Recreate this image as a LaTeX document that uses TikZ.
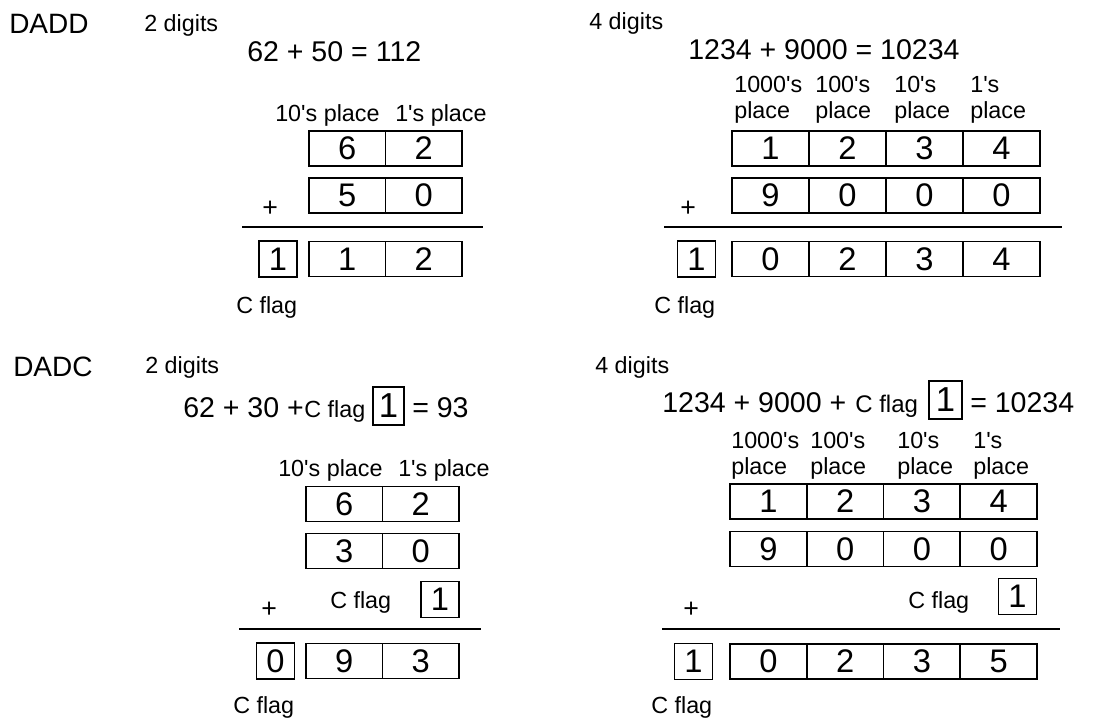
\documentclass[tikz,border=0pt]{standalone}
\usepackage{fontspec}
\setmainfont{Liberation Sans}
\usetikzlibrary{positioning}
\newcommand{\apos}{\textquotesingle}

\begin{document}
\begin{tikzpicture}[x=0.75pt, y=-0.75pt,
    txt/.style={inner sep=0pt, anchor=base west},
    title/.style={txt, font=\fontsize{21}{24}\selectfont},
    small/.style={txt, align=left, font=\fontsize{17.5}{19.5}\selectfont},
    plus/.style={txt, font=\fontsize{20}{24}\selectfont},
    eqn/.style={txt, font=\fontsize{21.4}{25}\selectfont},
    cell/.style={draw, line width=1.4pt, inner sep=0pt, minimum width=57.375pt, minimum height=26.25pt, font=\fontsize{24.5}{25}\selectfont},
    carry/.style={cell, minimum width=28.5pt, minimum height=27pt},
    eqbox/.style={cell, minimum width=23.5pt, minimum height=28.5pt, font=\fontsize{26}{26}\selectfont},
    rule/.style={line width=1.4pt}]
\useasboundingbox (0,0) rectangle (1106,722);

% DADD, 2 digits
\node[title] (dadd) at (9,33) {DADD};
\node[small] (dadd2) at (144,31) {2 digits};
\node[eqn] (dadd2eq) at (247,61) {62 + 50 = 112};
\node[small] (dadd2ten) at (275,121) {10\apos s place};
\node[small] (dadd2one) at (395,121) {1\apos s place};
\foreach \d [count=\i] in {6,2}
    \node[cell] (dadd2a\i) at ({309+76.5*(\i-0.5)},148.5) {\d};
\foreach \d [count=\i] in {5,0}
    \node[cell] (dadd2b\i) at ({309+76.5*(\i-0.5)},195.5) {\d};
\node[plus] (dadd2plus) at (262,216) {+};
\coordinate (dadd2l) at (242,227);
\coordinate (dadd2r) at (483,227);
\draw[rule] (dadd2l) -- (dadd2r);
\node[carry] (dadd2c) at (278,259) {1};
\foreach \d [count=\i] in {1,2}
    \node[cell] (dadd2s\i) at ({309+76.5*(\i-0.5)},259) {\d};
\node[small] (dadd2cf) at (236,313) {C flag};

% DADD, 4 digits
\node[small] (dadd4) at (589,29) {4 digits};
\node[eqn] (dadd4eq) at (688,59) {1234 + 9000 = 10234};
\foreach \t/\x [count=\i] in {1000/734,100/815,10/894,1/970}
    \node[small] (dadd4p\i) at (\x,118) {\t\apos s\\place};
\foreach \d [count=\i] in {1,2,3,4}
    \node[cell, minimum width=57.75pt] (dadd4a\i) at ({732+77*(\i-0.5)},148.5) {\d};
\foreach \d [count=\i] in {9,0,0,0}
    \node[cell, minimum width=57.75pt] (dadd4b\i) at ({732+77*(\i-0.5)},195.5) {\d};
\node[plus] (dadd4plus) at (680,216) {+};
\coordinate (dadd4l) at (664,227);
\coordinate (dadd4r) at (1062,227);
\draw[rule] (dadd4l) -- (dadd4r);
\node[carry] (dadd4c) at (696.5,259) {1};
\foreach \d [count=\i] in {0,2,3,4}
    \node[cell, minimum width=57.75pt] (dadd4s\i) at ({732+77*(\i-0.5)},259) {\d};
\node[small] (dadd4cf) at (654,313) {C flag};

% DADC, 2 digits
\node[title] (dadc) at (13,376) {DADC};
\node[small] (dadc2) at (145,373) {2 digits};
\node[eqn] (dadc2eq) at (183,417) {62 + 30 +};
\node[small] (dadc2eqc) at (dadc2eq.base east) {C flag};
\node[eqbox] (dadc2eqbox) at (388.5,406) {1};
\node[eqn] (dadc2eqr) at (412,417) {= 93};
\node[small] (dadc2ten) at (278,476) {10\apos s place};
\node[small] (dadc2one) at (398,476) {1\apos s place};
\foreach \d [count=\i] in {6,2}
    \node[cell] (dadc2a\i) at ({306+76.5*(\i-0.5)},504) {\d};
\foreach \d [count=\i] in {3,0}
    \node[cell] (dadc2b\i) at ({306+76.5*(\i-0.5)},551) {\d};
\node[small] (dadc2flag) at (330,608) {C flag};
\node[carry] (dadc2fbox) at (440,599.5) {1};
\node[plus] (dadc2plus) at (261,617) {+};
\coordinate (dadc2l) at (239,629);
\coordinate (dadc2r) at (481,629);
\draw[rule] (dadc2l) -- (dadc2r);
\node[carry] (dadc2c) at (275.5,661) {0};
\foreach \d [count=\i] in {9,3}
    \node[cell] (dadc2s\i) at ({306+76.5*(\i-0.5)},661) {\d};
\node[small] (dadc2cf) at (233,713) {C flag};

% DADC, 4 digits
\node[small] (dadc4) at (595,373) {4 digits};
\node[eqn] (dadc4eq) at (662,412) {1234 + 9000 +};
\node[small, font=\fontsize{18}{20}\selectfont] (dadc4eqc) at (855,412) {C flag};
\node[eqbox, minimum width=24.75pt] (dadc4eqbox) at (945.5,400) {1};
\node[eqn] (dadc4eqr) at (970,412) {= 10234};
\foreach \t/\x [count=\i] in {1000/731,100/810,10/897,1/973}
    \node[small] (dadc4p\i) at (\x,474) {\t\apos s\\place};
\foreach \d [count=\i] in {1,2,3,4}
    \node[cell, minimum width=57.5625pt] (dadc4a\i) at ({730+76.75*(\i-0.5)},501.5) {\d};
\foreach \d [count=\i] in {9,0,0,0}
    \node[cell, minimum width=57.5625pt] (dadc4b\i) at ({730+76.75*(\i-0.5)},549) {\d};
\node[small] (dadc4flag) at (908,608) {C flag};
\node[carry] (dadc4fbox) at (1017.5,596.5) {1};
\node[plus] (dadc4plus) at (683,617) {+};
\coordinate (dadc4l) at (662,629);
\coordinate (dadc4r) at (1060,629);
\draw[rule] (dadc4l) -- (dadc4r);
\node[carry] (dadc4c) at (693.5,661.5) {1};
\foreach \d [count=\i] in {0,2,3,5}
    \node[cell, minimum width=57.5625pt] (dadc4s\i) at ({730+76.75*(\i-0.5)},661.5) {\d};
\node[small] (dadc4cf) at (651,713) {C flag};
\end{tikzpicture}
\end{document}
